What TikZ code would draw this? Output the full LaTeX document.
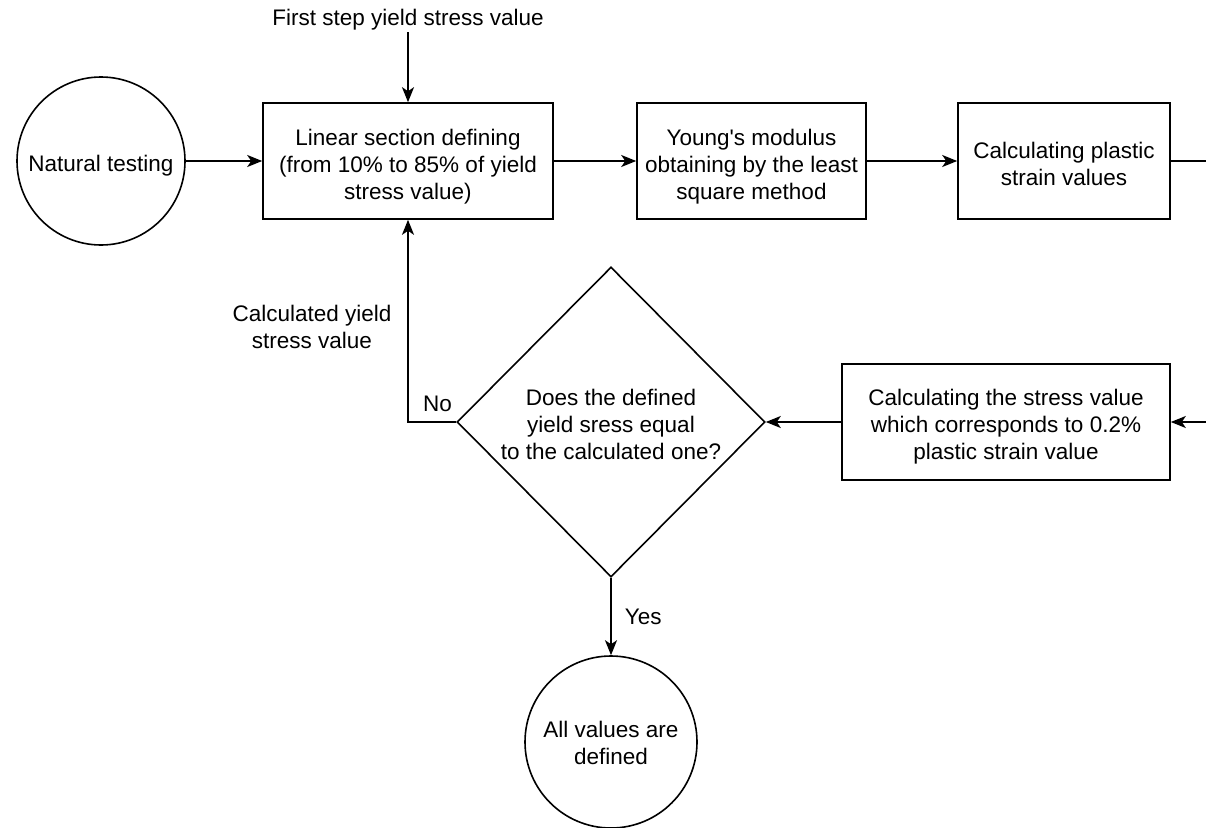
\documentclass[tikz,border=0pt]{standalone}
\usepackage{fontspec}
\setmainfont{Liberation Sans}
\usetikzlibrary{shapes.geometric,arrows.meta}
\begin{document}
\begin{tikzpicture}[x=1pt,y=-1pt,
  txt/.style={font=\fontsize{22.5}{27}\selectfont, align=center, inner sep=1pt},
  box/.style={txt, draw, line width=1.6pt, minimum height=116pt},
  circ/.style={txt, circle, draw, line width=1.6pt, inner sep=0pt},
  dia/.style={txt, diamond, draw, line width=1.6pt, inner sep=0pt, minimum width=308pt, minimum height=310pt},
  ln/.style={line width=1.6pt},
  arr/.style={ln, -{Stealth[length=15pt, width=12pt, inset=4pt]}}]
\useasboundingbox (0,0) rectangle (1206,827);
\node[circ, minimum size=168pt, text height=26pt] (nt) at (101,161) {Natural testing};
\node[box, minimum width=290pt, text height=82.4pt] (b1) at (408,161) {Linear section defining\\(from 10\% to 85\% of yield\\stress value)};
\node[box, minimum width=229pt, text height=82.4pt] (b2) at (751.5,161) {Young\textquotesingle s modulus\\obtaining by the least\\square method};
\node[box, minimum width=212pt, text height=49.4pt] (b3) at (1064,161) {Calculating plastic\\strain values};
\node[box, minimum width=328pt, text height=80.4pt] (b4) at (1006,422) {Calculating the stress value\\which corresponds to 0.2\%\\plastic strain value};
\node[dia, text height=75.4pt] (d) at (611,422) {Does the defined\\yield sress equal\\to the calculated one?};
\node[circ, minimum size=172pt, text height=45.4pt] (end) at (611,742) {All values are\\defined};
\node[txt, text height=22.4pt] (fs) at (408,17) {First step yield stress value};
\coordinate (fsb) at (408,32);
\coordinate (r1) at (1206,161);
\coordinate (r2) at (1206,422);
\node[txt] (calc) at (312,327) {Calculated yield\\stress value};
\draw[arr] (fsb) -- (b1.north);
\draw[arr] (nt) -- (b1);
\draw[arr] (b1) -- (b2);
\draw[arr] (b2) -- (b3);
\draw[ln] (b3.east) -- (r1);
\draw[arr] (r2) -- (b4.east);
\draw[arr] (b4.west) -- (d.east);
\draw[arr] (d.west) -| node[txt, pos=0.25, xshift=5.5pt, yshift=18pt] (no) {No} (b1.south);
\draw[arr] (d.south) -- node[txt, right=12pt] (yes) {Yes} (end.north);
\end{tikzpicture}
\end{document}
